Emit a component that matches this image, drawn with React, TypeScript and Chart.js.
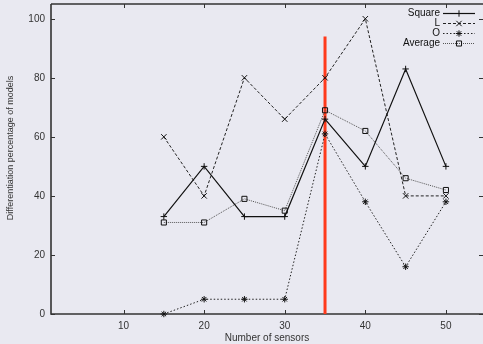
import React, { useEffect, useRef } from 'react';
import { Chart, registerables } from 'chart.js';
import { drawPoint } from 'chart.js/helpers';

Chart.register(...registerables);

const sensors = [15, 20, 25, 30, 35, 40, 45, 50];
const squareVals = [33, 50, 33, 33, 66, 50, 83, 50];
const lVals = [60, 40, 80, 66, 80, 100, 40, 40];
const oVals = [0, 5, 5, 5, 61, 38, 16, 38];
const avgVals = [31, 31, 39, 35, 69, 62, 46, 42];
const seriesNames = ['Square', 'L', 'O', 'Average'];
const markerX = 35;
const markerTop = 94;
const xTickVals = [10, 20, 30, 40, 50];
const yTickVals = [0, 20, 40, 60, 80, 100];
const xTitle = 'Number of sensors';
const yTitle = 'Differentiation percentage of models';

const FONT = '"Liberation Sans", Arial, Helvetica, sans-serif';
const BG = '#e9e9f1';
const AXIS = '#333333';

const toPts = (vals: number[]) => sensors.map((x, i) => ({ x, y: vals[i] }));

export default function App() {
  const ref = useRef<HTMLCanvasElement>(null);
  useEffect(() => {
    document.body.style.margin = '0';
    document.body.style.background = BG;
    const canvas = ref.current!;
    const styles = [
      { color: '#111', dash: [] as number[], point: 'cross', width: 1.2, radius: 3.2 },
      { color: '#222', dash: [3, 2], point: 'crossRot', width: 1, radius: 3.8 },
      { color: '#222', dash: [1.5, 2], point: 'star', width: 1, radius: 3.2 },
      { color: '#555', dash: [1, 1], point: 'rect', width: 1, radius: 3.6 },
    ];
    const seriesVals = [squareVals, lVals, oVals, avgVals];
    const datasets: any[] = seriesVals.map((vals, i) => ({
      label: seriesNames[i],
      data: toPts(vals),
      borderColor: styles[i].color,
      borderWidth: styles[i].width,
      borderDash: styles[i].dash,
      pointStyle: styles[i].point,
      pointRadius: styles[i].radius,
      pointBorderColor: '#111',
      pointBorderWidth: 1,
      pointBackgroundColor: 'rgba(0,0,0,0)',
      tension: 0,
      fill: false,
      clip: false,
    }));
    datasets.push({
      label: 'marker',
      data: [{ x: markerX, y: 0 }, { x: markerX, y: markerTop }],
      borderColor: '#ff3a1c',
      borderWidth: 3,
      pointRadius: 0,
      fill: false,
    });

    const bgPlugin = {
      id: 'bg',
      beforeDraw(chart: any) {
        const c = chart.ctx;
        c.save();
        c.fillStyle = BG;
        c.fillRect(0, 0, chart.width, chart.height);
        c.restore();
      },
    };

    const framePlugin = {
      id: 'frame',
      beforeDatasetsDraw(chart: any) {
        const c = chart.ctx;
        const a = chart.chartArea;
        const xs = chart.scales.x;
        const ys = chart.scales.y;
        c.save();
        c.strokeStyle = AXIS;
        c.lineWidth = 1.6;
        c.beginPath();
        c.moveTo(a.left, a.top);
        c.lineTo(a.left, a.bottom);
        c.lineTo(a.right, a.bottom);
        c.moveTo(a.left, a.top);
        c.lineTo(a.right, a.top);
        c.stroke();
        c.lineWidth = 1;
        c.beginPath();
        const tl = 4;
        xTickVals.forEach((v) => {
          const px = Math.round(xs.getPixelForValue(v)) + 0.5;
          c.moveTo(px, a.bottom);
          c.lineTo(px, a.bottom - tl);
          c.moveTo(px, a.top);
          c.lineTo(px, a.top + tl);
        });
        yTickVals.forEach((v) => {
          const py = Math.round(ys.getPixelForValue(v)) + 0.5;
          c.moveTo(a.left, py);
          c.lineTo(a.left + tl, py);
          c.moveTo(a.right, py);
          c.lineTo(a.right - tl, py);
        });
        c.stroke();
        // axis titles
        c.fillStyle = AXIS;
        c.font = `10px ${FONT}`;
        c.textAlign = 'center';
        c.textBaseline = 'middle';
        c.fillText(xTitle, (a.left + a.right) / 2, 338);
        c.save();
        c.translate(11, 148);
        c.rotate(-Math.PI / 2);
        c.font = `9px ${FONT}`;
        c.fillText(yTitle, 0, 0);
        c.restore();
        c.restore();
      },
    };

    const legendPlugin = {
      id: 'gnuLegend',
      afterDatasetsDraw(chart: any) {
        const c = chart.ctx;
        c.save();
        c.font = `10px ${FONT}`;
        c.textAlign = 'right';
        c.textBaseline = 'middle';
        const rowY = [13.5, 23.5, 33.5, 43.5];
        seriesNames.forEach((name, i) => {
          const y = rowY[i];
          c.fillStyle = '#111';
          c.fillText(name, 440, y);
          c.strokeStyle = styles[i].color;
          c.lineWidth = styles[i].width;
          c.setLineDash(styles[i].dash);
          c.beginPath();
          c.moveTo(443, y);
          c.lineTo(475, y);
          c.stroke();
          c.setLineDash([]);
          c.strokeStyle = '#111';
          c.fillStyle = 'rgba(0,0,0,0)';
          c.lineWidth = 1;
          drawPoint(c, { pointStyle: styles[i].point, radius: styles[i].radius, rotation: 0, borderWidth: 1 } as any, 459, y);
        });
        c.restore();
      },
    };

    const chart = new Chart(canvas, {
      type: 'line',
      data: { datasets },
      options: {
        responsive: false,
        animation: false,
        devicePixelRatio: 1,
        layout: { autoPadding: false, padding: { top: 4, right: 0, left: 0, bottom: 0 } },
        plugins: { legend: { display: false }, tooltip: { enabled: false } },
        scales: {
          x: {
            type: 'linear',
            min: 1,
            max: 54.6,
            grid: { display: false, drawTicks: false },
            border: { display: false },
            afterBuildTicks: (s: any) => {
              s.ticks = xTickVals.map((v) => ({ value: v }));
            },
            afterFit: (s: any) => {
              s.height = 30;
              s.paddingLeft = 0;
              s.paddingRight = 0;
            },
            ticks: {
              padding: 6,
              color: AXIS,
              font: { family: FONT, size: 10 },
              maxRotation: 0,
              autoSkip: false,
            },
          },
          y: {
            type: 'linear',
            min: 0,
            max: 105,
            grid: { display: false, drawTicks: false },
            border: { display: false },
            afterBuildTicks: (s: any) => {
              s.ticks = yTickVals.map((v) => ({ value: v }));
            },
            afterFit: (s: any) => {
              s.width = 51;
              s.paddingTop = 0;
              s.paddingBottom = 0;
            },
            ticks: {
              padding: 6,
              color: AXIS,
              font: { family: FONT, size: 10 },
              autoSkip: false,
            },
          },
        },
      },
      plugins: [bgPlugin, framePlugin, legendPlugin],
    });
    return () => chart.destroy();
  }, []);
  return (
    <div style={{ position: 'absolute', left: 0, top: 0, width: 483, height: 344 }}>
      <canvas ref={ref} width={483} height={344} style={{ display: 'block', width: 483, height: 344 }} />
    </div>
  );
}
